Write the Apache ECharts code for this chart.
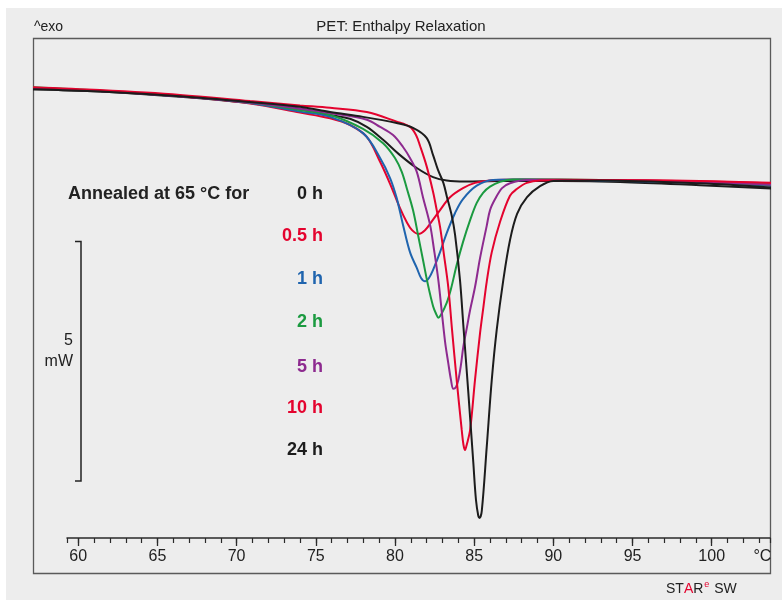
<!DOCTYPE html>
<html>
<head>
<meta charset="utf-8">
<script src="https://cdn.jsdelivr.net/npm/echarts@6/dist/echarts.min.js"></script>
<style>
  html, body { margin: 0; padding: 0; background: #ffffff; }
  #chart { width: 782px; height: 600px; }
</style>
</head>
<body>
<div id="chart"></div>
<script>
// x axis (temperature, °C)
const xLabels = [60, 65, 70, 75, 80, 85, 90, 95, 100]
const xMinor = [60, 61, 62, 63, 64, 65, 66, 67, 68, 69, 70, 71, 72, 73, 74, 75, 76, 77, 78, 79, 80,
  81, 82, 83, 84, 85, 86, 87, 88, 89, 90, 91, 92, 93, 94, 95, 96, 97, 98, 99, 100, 101, 102, 103]
const xUnit = '°C'

const annealTimes = ['0 h', '0.5 h', '1 h', '2 h', '5 h', '10 h', '24 h']

// heat flow in mW (exo up, arbitrary offset) vs temperature in °C
const h0 = [[57.09, 9.39], [61.33, 9.34], [66.38, 9.23], [70.81, 9.10], [73.97, 8.98], [75.87, 8.85],
  [77.13, 8.77], [78.19, 8.60], [79.22, 8.33], [80.29, 8.01], [81.35, 7.74], [82.38, 7.55],
  [83.24, 7.48], [84.40, 7.46], [86.61, 7.47], [90.40, 7.47], [94.20, 7.45], [99.25, 7.38], [103.74, 7.31]]

const h05 = [[57.09, 9.41], [61.33, 9.35], [66.38, 9.24], [70.81, 9.09], [73.97, 8.90], [75.87, 8.78],
  [77.13, 8.64], [78.19, 8.39], [79.03, 7.87], [79.66, 7.41], [80.29, 6.90], [80.71, 6.61],
  [81.05, 6.44], [81.45, 6.36], [81.87, 6.44], [82.31, 6.63], [82.82, 6.86], [83.45, 7.13],
  [84.27, 7.32], [85.03, 7.43], [85.98, 7.48], [87.88, 7.50], [92.93, 7.49], [99.25, 7.46], [103.74, 7.42]]

const h1 = [[57.09, 9.41], [61.33, 9.35], [66.38, 9.24], [70.81, 9.10], [73.97, 8.92], [75.87, 8.81],
  [77.95, 8.47], [79.03, 7.95], [79.66, 7.53], [80.08, 7.11], [80.48, 6.55], [80.92, 5.98],
  [81.35, 5.65], [81.62, 5.44], [81.87, 5.37], [82.12, 5.44], [82.38, 5.61], [82.82, 5.98],
  [83.24, 6.38], [83.77, 6.80], [84.27, 7.09], [85.14, 7.37], [86.17, 7.49], [87.88, 7.50],
  [92.93, 7.48], [99.25, 7.43], [103.74, 7.37]]

const h2 = [[57.09, 9.43], [61.33, 9.36], [66.38, 9.25], [70.81, 9.11], [73.97, 8.95], [75.87, 8.85],
  [77.95, 8.56], [79.22, 8.26], [79.97, 7.95], [80.40, 7.66], [80.73, 7.30], [81.11, 6.86],
  [81.43, 6.34], [81.74, 5.82], [82.06, 5.29], [82.38, 4.85], [82.57, 4.69], [82.71, 4.61],
  [82.88, 4.67], [83.24, 4.92], [83.51, 5.21], [83.87, 5.71], [84.27, 6.19], [84.72, 6.65],
  [85.14, 7.01], [85.54, 7.22], [85.98, 7.35], [86.61, 7.45], [87.43, 7.50], [92.93, 7.49],
  [99.25, 7.44], [103.74, 7.39]]

const h5 = [[57.09, 9.41], [61.33, 9.35], [66.38, 9.24], [70.81, 9.11], [73.97, 8.98], [75.87, 8.89],
  [78.19, 8.75], [79.03, 8.60], [79.85, 8.43], [80.48, 8.18], [80.92, 7.95], [81.35, 7.66],
  [81.74, 7.13], [82.19, 6.55], [82.44, 6.03], [82.71, 5.40], [82.95, 4.67], [83.14, 4.10],
  [83.34, 3.66], [83.51, 3.31], [83.66, 3.12], [83.83, 3.16], [83.98, 3.31], [84.14, 3.62],
  [84.29, 4.00], [84.51, 4.39], [84.72, 4.77], [85.03, 5.25], [85.35, 5.86], [85.77, 6.53],
  [85.98, 6.86], [86.30, 7.09], [86.74, 7.32], [87.24, 7.42], [88.30, 7.49], [92.93, 7.49],
  [99.25, 7.45], [103.74, 7.39]]

const h10 = [[57.09, 9.43], [61.33, 9.37], [66.38, 9.27], [70.81, 9.14], [73.97, 9.05], [75.87, 9.00],
  [78.19, 8.91], [80.08, 8.71], [80.92, 8.60], [81.30, 8.43], [81.56, 8.20], [81.97, 7.78],
  [82.38, 7.24], [82.61, 6.86], [82.82, 6.51], [83.07, 5.92], [83.34, 5.25], [83.58, 4.35],
  [83.87, 3.31], [84.19, 2.26], [84.30, 1.95], [84.40, 1.84], [84.49, 1.93], [84.72, 2.26],
  [85.03, 3.31], [85.35, 4.29], [85.56, 4.83], [85.77, 5.36], [86.09, 5.98], [86.61, 6.61],
  [87.24, 7.16], [87.67, 7.30], [88.30, 7.43], [89.14, 7.48], [92.93, 7.49], [99.25, 7.47], [103.74, 7.43]]

const h24 = [[57.09, 9.39], [61.33, 9.34], [66.38, 9.24], [70.81, 9.12], [73.97, 9.02], [75.87, 8.91],
  [77.95, 8.81], [80.08, 8.68], [81.11, 8.58], [81.97, 8.37], [82.38, 8.01], [82.69, 7.70],
  [83.03, 7.43], [83.26, 7.13], [83.56, 6.74], [83.77, 6.34], [84.08, 5.40], [84.29, 4.46],
  [84.61, 3.03], [84.92, 1.59], [85.09, 0.80], [85.24, 0.46], [85.32, 0.42], [85.46, 0.57],
  [85.77, 1.90], [86.09, 3.31], [86.40, 4.35], [86.82, 5.40], [87.24, 6.23], [87.69, 6.78],
  [88.32, 7.13], [89.14, 7.36], [89.98, 7.47], [92.93, 7.48], [99.25, 7.42], [103.74, 7.33]]

const curves = [h0, h05, h1, h2, h5, h10, h24]
const colors = ['#1c1c1c', '#e4032e', '#1f64ae', '#1b9a40', '#8d2a8f', '#e4032e', '#1c1c1c']

const font = '"Liberation Sans", Arial, sans-serif'
const labelY = [194, 236, 279, 322, 367, 408, 450]

const chart = echarts.init(document.getElementById('chart'))

const legendTexts = annealTimes.map((t, i) => ({
  type: 'text',
  x: 323,
  y: labelY[i],
  style: {
    text: t, fill: colors[i], font: 'bold 18px ' + font,
    align: 'right', verticalAlign: 'middle', textAlign: 'right', textVerticalAlign: 'middle'
  }
}))

const option = {
  backgroundColor: '#ffffff',
  animation: false,
  grid: [
    { left: 33, right: 11, top: 38, bottom: 62 },
    { left: 67, right: 12, top: 38, bottom: 62 }
  ],
  xAxis: [
    {
      gridIndex: 0, type: 'value', min: 57.09, max: 103.74, show: false
    },
    {
      gridIndex: 1, type: 'value', min: 59.29, max: 103.68, position: 'bottom',
      axisLine: { show: true, onZero: false, lineStyle: { color: '#2a2a2a', width: 1.5 } },
      axisTick: { show: true, inside: false, length: 8, customValues: xLabels, lineStyle: { color: '#2a2a2a', width: 1.3 } },
      axisLabel: {
        show: true, inside: false, customValues: xLabels.concat([103.2]), margin: 11,
        color: '#222', fontSize: 16, fontFamily: font,
        formatter: v => (v > 101 ? xUnit : String(v))
      },
      splitLine: { show: false }
    },
    {
      gridIndex: 1, type: 'value', min: 59.29, max: 103.68, position: 'bottom',
      axisLine: { show: false, onZero: false },
      axisTick: { show: true, inside: false, length: 5, customValues: [59.29].concat(xMinor, [103.68]), lineStyle: { color: '#2a2a2a', width: 1.2 } },
      axisLabel: { show: false },
      splitLine: { show: false }
    }
  ],
  yAxis: [
    { gridIndex: 0, type: 'value', min: 0, max: 10.46, show: false },
    { gridIndex: 1, type: 'value', min: 0, max: 1, show: false }
  ],
  graphic: [
    { type: 'rect', z: -10, shape: { x: 6, y: 8, width: 776, height: 592 }, style: { fill: '#ededed' } },
    { type: 'rect', z: -9, shape: { x: 33.5, y: 38.5, width: 737, height: 535 }, style: { fill: 'none', stroke: '#5a5a5a', lineWidth: 1.3 } },
    {
      type: 'text', x: 401, y: 27,
      style: { text: 'PET: Enthalpy Relaxation', fill: '#222', font: '15px ' + font, align: 'center', verticalAlign: 'middle', textAlign: 'center', textVerticalAlign: 'middle' }
    },
    {
      type: 'text', x: 34, y: 27,
      style: { text: '^exo', fill: '#222', font: '14px ' + font, align: 'left', verticalAlign: 'middle', textAlign: 'left', textVerticalAlign: 'middle' }
    },
    {
      type: 'polyline',
      shape: { points: [[75, 241.5], [81, 241.5], [81, 481], [75, 481]] },
      style: { stroke: '#222', lineWidth: 1.5, fill: 'none' }
    },
    {
      type: 'text', x: 73, y: 341,
      style: { text: '5', fill: '#222', font: '16px ' + font, align: 'right', verticalAlign: 'middle', textAlign: 'right', textVerticalAlign: 'middle' }
    },
    {
      type: 'text', x: 73, y: 362,
      style: { text: 'mW', fill: '#222', font: '16px ' + font, align: 'right', verticalAlign: 'middle', textAlign: 'right', textVerticalAlign: 'middle' }
    },
    {
      type: 'text', x: 68, y: 194,
      style: { text: 'Annealed at 65 °C for', fill: '#222', font: 'bold 18px ' + font, align: 'left', verticalAlign: 'middle', textAlign: 'left', textVerticalAlign: 'middle' }
    },
    ...legendTexts,
    {
      type: 'text', x: 666, y: 589,
      style: {
        text: '{a|ST}{r|A}{a|R}{s|e}{a| SW}',
        align: 'left', verticalAlign: 'middle', textAlign: 'left', textVerticalAlign: 'middle',
        rich: {
          a: { fill: '#222', color: '#222', font: '14px ' + font },
          r: { fill: '#e4032e', color: '#e4032e', font: '14px ' + font },
          s: { fill: '#e4032e', color: '#e4032e', font: '9px ' + font, padding: [0, 1, 8, 1] }
        }
      }
    }
  ],
  series: curves.map((d, i) => ({
    type: 'line',
    name: annealTimes[i],
    xAxisIndex: 0,
    yAxisIndex: 0,
    data: d,
    showSymbol: false,
    smooth: 0.35,
    silent: true,
    lineStyle: { color: colors[i], width: 2 }
  }))
}

chart.setOption(option)
</script>
</body>
</html>
